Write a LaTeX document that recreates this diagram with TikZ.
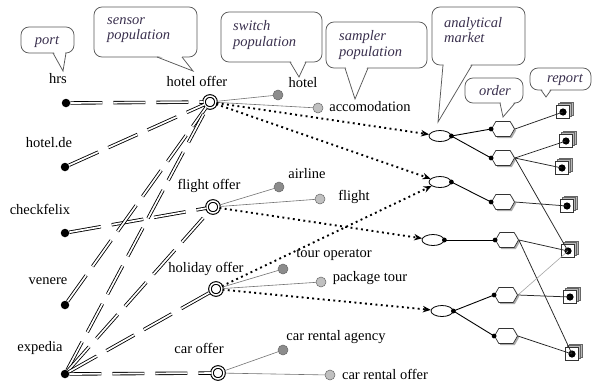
\documentclass[tikz,border=0pt]{standalone}
\usepackage{fontspec}
\setmainfont{Liberation Serif}
\usetikzlibrary{shapes.geometric,shapes.symbols,shadows,arrows.meta,calc}
\definecolor{calltextc}{RGB}{58,48,78}
\definecolor{darksw}{RGB}{140,140,140}
\definecolor{lightsw}{RGB}{192,192,192}
\newcommand{\mycallout}[5]{%
  \draw[callbox] #1 rectangle #2;
  \fill[white] ($#3+(0.7,-1.5)$) -- #4 -- ($#5+(-0.7,-1.5)$) -- cycle;
  \draw[callline] #3 -- #4 -- #5;
}
\begin{document}
\begin{tikzpicture}[x=1pt,y=-1pt,
  font=\fontsize{14.5}{16}\selectfont,
  callbox/.style={draw=black!65, line width=0.75pt, fill=white, rounded corners=8pt},
  callline/.style={draw=black!65, line width=0.75pt},
  calltext/.style={font=\fontsize{14.5}{15.5}\selectfont\itshape, text=calltextc, inner sep=0pt, align=left},
  lbl/.style={inner sep=0pt, text=black},
  port/.style={circle, fill=black, inner sep=0pt, minimum size=8.5pt},
  sensor/.style={circle, draw=black, line width=1.1pt, double=white, double distance=1.5pt, fill=white, inner sep=0pt, minimum size=12pt},
  swd/.style={circle, draw=black!60, line width=0.5pt, fill=darksw, inner sep=0pt, minimum size=10pt},
  swl/.style={circle, draw=black!60, line width=0.5pt, fill=lightsw, inner sep=0pt, minimum size=10pt},
  market/.style={ellipse, draw=black, line width=0.8pt, fill=white, inner sep=0pt, minimum width=22pt, minimum height=11pt},
  orderbox/.style={signal, signal to=east and west, signal pointer angle=120, draw=black!80, line width=0.7pt, fill=white, inner sep=0pt, minimum width=23pt, minimum height=15pt,
     drop shadow={shadow xshift=1.6pt, shadow yshift=-1.6pt, fill=gray!65, opacity=1}},
  reportbox/.style={rectangle, draw=black!80, line width=0.7pt, fill=white, inner sep=0pt, minimum size=13pt,
     double copy shadow={shadow xshift=1.8pt, shadow yshift=1.8pt, fill=gray!55, draw=black!60},
     path picture={\fill[black] (path picture bounding box.center) circle (3.6pt);}},
  ddash/.style={draw=black, double=white, line width=0.85pt, double distance=1.7pt, dash pattern=on 32pt off 11pt},
  dotline/.style={line width=1.9pt, dash pattern=on 1.9pt off 3.4pt, -{Stealth[length=8pt,width=6.5pt]}},
  swline/.style={draw=black!55, line width=0.6pt},
  mline/.style={draw=black, line width=0.9pt},
  rline/.style={draw=black!85, line width=0.75pt},
  rlight/.style={draw=black!35, line width=0.6pt}
]
\useasboundingbox[fill=white] (0,0) rectangle (593,381);

% callouts
\mycallout{(21,27)}{(74,53)}{(53,53)}{(63,71)}{(66,53)}
\node[calltext] (cport) at (47,42) {port};
\mycallout{(94,7)}{(197,57)}{(157,57)}{(193,71)}{(182,57)}
\node[calltext, anchor=west] (csensor) at (107,30) {sensor\\population};
\mycallout{(221,12)}{(322,62)}{(290,62)}{(299,77)}{(306,62)}
\node[calltext, anchor=west] (cswitch) at (233,35) {switch\\population};
\mycallout{(326,22)}{(427,68)}{(345,68)}{(355,99)}{(368,68)}
\node[calltext, anchor=west] (csampler) at (339,45) {sampler\\population};
\mycallout{(432,7)}{(525,65)}{(443,65)}{(438,122)}{(472,65)}
\node[calltext, anchor=west] (cmarket) at (444,30) {analytical\\market};
\mycallout{(465,78)}{(523,103)}{(500,103)}{(503,117)}{(515,103)}
\node[calltext] (corder) at (495,91) {order};
\mycallout{(530,68)}{(591,90)}{(541,90)}{(546,97)}{(551,90)}
\node[calltext] (creport) at (565,80) {report};

% ports
\node[port] (hrs) at (66,103) {};
\node[port] (hotelde) at (65,167) {};
\node[port] (checkfelix) at (65,233) {};
\node[port] (venere) at (65,305) {};
\node[port] (expedia) at (65,374) {};
\node[lbl] (lhrs) at (58,79) {hrs};
\node[lbl] (lhotelde) at (49,143) {hotel.de};
\node[lbl] (lcheckfelix) at (40,209) {checkfelix};
\node[lbl] (lvenere) at (48,281) {venere};
\node[lbl] (lexpedia) at (40,348) {expedia};

% sensors
\node[sensor] (hoteloffer) at (210,102) {};
\node[sensor] (flightoffer) at (213,207) {};
\node[sensor] (holidayoffer) at (216,289) {};
\node[sensor] (caroffer) at (218,373) {};
\node[lbl] (lhoteloffer) at (197,81) {hotel offer};
\node[lbl] (lflightoffer) at (209,186) {flight offer};
\node[lbl] (lholidayoffer) at (206,269) {holiday offer};
\node[lbl] (lcaroffer) at (199,348) {car offer};

% switches
\node[swd] (swhotel) at (278,95) {};
\node[swl] (swacc) at (318,108) {};
\node[swd] (swairline) at (279,187) {};
\node[swl] (swflight) at (320,199) {};
\node[swd] (swtour) at (283,269) {};
\node[swl] (swpackage) at (321,282) {};
\node[swd] (swagency) at (283,350) {};
\node[swl] (swrental) at (330,375) {};
\node[lbl] (lswhotel) at (303,83) {hotel};
\node[lbl] (lswacc) at (370,107) {accomodation};
\node[lbl] (lswairline) at (307,174) {airline};
\node[lbl] (lswflight) at (354,197) {flight};
\node[lbl] (lswtour) at (334,255) {tour operator};
\node[lbl] (lswpackage) at (370,278) {package tour};
\node[lbl] (lswagency) at (336,337) {car rental agency};
\node[lbl] (lswrental) at (385,374) {car rental offer};

% markets
\node[market] (m1) at (440,136) {};
\node[market] (m2) at (440,182) {};
\node[market] (m3) at (433,240) {};
\node[market] (m4) at (442,311) {};

% orders
\node[orderbox] (o1) at (503,129) {};
\node[orderbox] (o2) at (503,158) {};
\node[orderbox] (o3) at (503,202) {};
\node[orderbox] (o4) at (507,240) {};
\node[orderbox] (o5) at (506,295) {};
\node[orderbox] (o6) at (506,336) {};

% reports
\node[reportbox] (r1) at (563,112) {};
\node[reportbox] (r2) at (566,141) {};
\node[reportbox] (r3) at (562,168) {};
\node[reportbox] (r4) at (567,206) {};
\node[reportbox] (r5) at (568,251) {};
\node[reportbox] (r6) at (570,297) {};
\node[reportbox] (r7) at (572,354) {};

% port -> sensor
\draw[ddash] (hrs) -- (hoteloffer);
\draw[ddash] (hotelde) -- (hoteloffer);
\draw[ddash] (checkfelix) -- (flightoffer);
\draw[ddash] (venere) -- (hoteloffer);
\draw[ddash] (expedia) -- (hoteloffer);
\draw[ddash] (expedia) -- (flightoffer);
\draw[ddash] (expedia) -- (holidayoffer);
\draw[ddash] (expedia) -- (caroffer);

% sensor -> switch
\draw[swline] (hoteloffer) -- (swhotel);
\draw[swline] (hoteloffer) -- (swacc);
\draw[swline] (flightoffer) -- (swairline);
\draw[swline] (flightoffer) -- (swflight);
\draw[swline] (holidayoffer) -- (swtour);
\draw[swline] (holidayoffer) -- (swpackage);
\draw[swline] (caroffer) -- (swagency);
\draw[swline] (caroffer) -- (swrental);

% sensor -> market
\draw[dotline] (hoteloffer) -- (m1);
\draw[dotline] (hoteloffer) -- (m2);
\draw[dotline] (flightoffer) -- (m3);
\draw[dotline] (holidayoffer) -- (m2);
\draw[dotline] (holidayoffer) -- (m4);

% market -> order
\draw[mline] (m1.east) -- (o1.west);
\draw[mline] (m1.east) -- (o2.west);
\draw[mline] (m2.east) -- (o3.west);
\draw[mline] (m3.east) -- (o4.west);
\draw[mline] (m4.east) -- (o5.west);
\draw[mline] (m4.east) -- (o6.west);
\foreach \n in {m1,m2,m3,m4} \fill[black] (\n.east) circle (2.4pt);
\foreach \n in {o1,o2,o3,o4,o5,o6} \fill[black] (\n.west) circle (2.4pt);

% order -> report
\draw[rline] (o1.east) -- (r1.center);
\draw[rline] (o2.east) -- (r2.center);
\draw[rline] (o2.east) -- (r3.center);
\draw[rline] (o2.east) -- (r5.center);
\draw[rline] (o3.east) -- (r4.center);
\draw[rline] (o4.east) -- (r5.center);
\draw[rline] (o4.east) -- (r7.center);
\draw[rlight] (o5.east) -- (r5.center);
\draw[rline] (o5.east) -- (r6.center);
\draw[rline] (o6.east) -- (r7.center);
\end{tikzpicture}
\end{document}
